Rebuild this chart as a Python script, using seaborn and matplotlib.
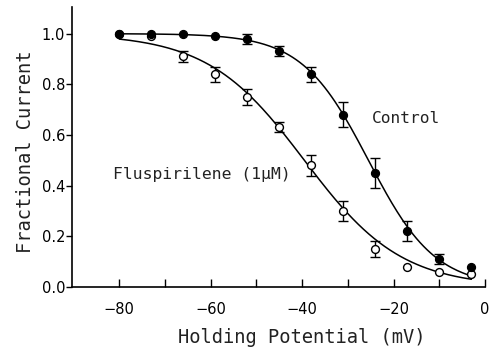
import numpy as np
import pandas as pd
import matplotlib
matplotlib.use("Agg")
import matplotlib.pyplot as plt
import seaborn as sns
from matplotlib.ticker import FixedLocator

# Data
voltage = [-80, -73, -66, -59, -52, -45, -38, -31, -24, -17, -10, -3]
control = [1.00, 1.00, 1.00, 0.99, 0.98, 0.93, 0.84, 0.68, 0.45, 0.22, 0.11, 0.08]
control_err = [0.0, 0.0, 0.0, 0.0, 0.02, 0.02, 0.03, 0.05, 0.06, 0.04, 0.02, 0.0]
flusp = [1.00, 0.99, 0.91, 0.84, 0.75, 0.63, 0.48, 0.30, 0.15, 0.08, 0.06, 0.05]
flusp_err = [0.0, 0.0, 0.02, 0.03, 0.03, 0.02, 0.04, 0.04, 0.03, 0.0, 0.0, 0.0]

x_ticks = [-80, -60, -40, -20, 0]
x_ticklabels = ["\u221280", "\u221260", "\u221240", "\u221220", "0"]
x_minor = [-70, -50, -30, -10]
y_ticks = [0, 0.2, 0.4, 0.6, 0.8, 1.0]
y_ticklabels = ["0.0", "0.2", "0.4", "0.6", "0.8", "1.0"]

# Boltzmann fit parameters (V_half, slope k)
control_fit = (-25.5, 7.3)
flusp_fit = (-39.5, 10.6)

sns.set_theme(style="ticks")
plt.rcParams['font.family'] = ['DejaVu Sans']
MONO = ['DejaVu Sans Mono', 'DejaVu Sans']

fig = plt.figure(figsize=(4.94, 3.51), dpi=100)
ax = fig.add_axes([0.146, 0.182, 0.836, 0.798])

vfit = np.linspace(voltage[0], voltage[-1], 200)
for (vh, k) in (control_fit, flusp_fit):
    yfit = 1.0 / (1.0 + np.exp((vfit - vh) / k))
    sns.lineplot(x=vfit, y=yfit, ax=ax, color="black", lw=1.1)

df_c = pd.DataFrame({"v": voltage, "y": control, "e": control_err})
df_f = pd.DataFrame({"v": voltage, "y": flusp, "e": flusp_err})

for df in (df_f, df_c):
    m = df["e"] > 0
    ax.errorbar(df["v"][m], df["y"][m], yerr=df["e"][m], fmt="none",
                ecolor="black", elinewidth=1.0, capsize=3.5, capthick=1.0, zorder=3)

sns.scatterplot(data=df_f, x="v", y="y", ax=ax, marker="o", s=32,
                facecolor="white", edgecolor="black", linewidth=1.0, zorder=4)
sns.scatterplot(data=df_c, x="v", y="y", ax=ax, marker="o", s=32,
                color="black", edgecolor="black", linewidth=1.0, zorder=5)

ax.set_xlim(-90.3, 0)
ax.set_ylim(0, 1.105)
ax.set_xticks(x_ticks)
ax.set_xticklabels(x_ticklabels)
ax.xaxis.set_minor_locator(FixedLocator(x_minor))
ax.set_yticks(y_ticks)
ax.set_yticklabels(y_ticklabels)

ax.tick_params(axis="x", which="both", direction="in", length=6, width=1.0,
               labelsize=10.5, pad=11, colors="black")
ax.tick_params(axis="y", which="major", direction="out", length=4, width=1.0,
               labelsize=10.5, pad=1, colors="black")
for s in ("top", "right"):
    ax.spines[s].set_visible(False)
for s in ("left", "bottom"):
    ax.spines[s].set_linewidth(1.2)
    ax.spines[s].set_color("black")

ax.set_xlabel("Holding Potential (mV)", fontsize=13.5, family=MONO, color="#222222")
ax.set_ylabel("Fractional Current", fontsize=13.5, family=MONO, color="#222222")
ax.xaxis.label.set_verticalalignment("center")
ax.yaxis.label.set_verticalalignment("center")
ax.xaxis.set_label_coords(0.557, -0.179)
ax.yaxis.set_label_coords(-0.114, 0.482)

ax.text(-24.7, 0.664, "Control", fontsize=11.6, family=MONO, va="center", ha="left", color="#222222")
ax.text(-81.3, 0.443, "Fluspirilene (1\u03bcM)", fontsize=11.8, family=MONO, va="center", ha="left", color="#222222")

fig.savefig("out.png", dpi=100)
